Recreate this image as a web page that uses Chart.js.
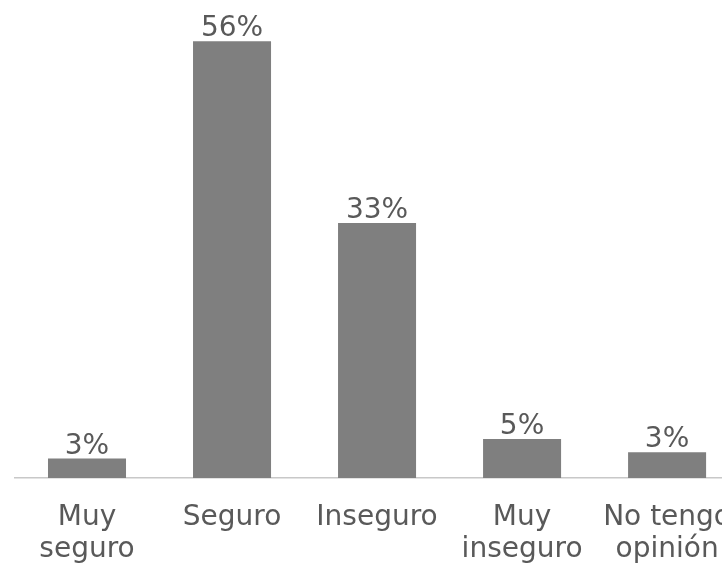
<!DOCTYPE html>
<html>
<head>
<meta charset="utf-8">
<script src="https://cdn.jsdelivr.net/npm/chart.js@4"></script>
<style>
  body { margin: 0; overflow: hidden; background: #fff; }
</style>
</head>
<body>
<canvas id="barChart" width="755" height="565"></canvas>
<script>
const categories = [['Muy', 'seguro'], 'Seguro', 'Inseguro', ['Muy', 'inseguro'], ['No tengo', 'opinión']];
const values = [2.5, 56, 32.7, 5, 3.3];

const valueLabels = {
    id: 'valueLabels',
    afterDatasetsDraw(chart) {
        const ctx = chart.ctx;
        const meta = chart.getDatasetMeta(0);
        ctx.save();
        ctx.font = '28px "DejaVu Sans"';
        ctx.fillStyle = '#595959';
        ctx.textAlign = 'center';
        ctx.textBaseline = 'alphabetic';
        meta.data.forEach((bar, i) => {
            ctx.fillText(Math.round(values[i]) + '%', bar.x, bar.y - 5);
        });
        ctx.restore();
    }
};

new Chart(document.getElementById('barChart'), {
    type: 'bar',
    data: {
        labels: categories,
        datasets: [{
            data: values,
            backgroundColor: '#7f7f7f',
            categoryPercentage: 1,
            barPercentage: 0.538
        }]
    },
    plugins: [valueLabels],
    options: {
        responsive: false,
        animation: false,
        layout: { padding: { left: 14.5, right: 0, top: 10, bottom: 0 } },
        plugins: {
            legend: { display: false },
            tooltip: { enabled: false }
        },
        scales: {
            y: { display: false, min: 0, max: 60 },
            x: {
                afterFit: (scale) => { scale.height = 87; },
                grid: { display: false, drawTicks: false },
                border: { display: true, color: '#c8c8c8', width: 1.5 },
                ticks: {
                    padding: 24,
                    maxRotation: 0,
                    autoSkip: false,
                    color: '#595959',
                    font: { family: 'DejaVu Sans', size: 28, lineHeight: 1.13 }
                }
            }
        }
    }
});
</script>
</body>
</html>
